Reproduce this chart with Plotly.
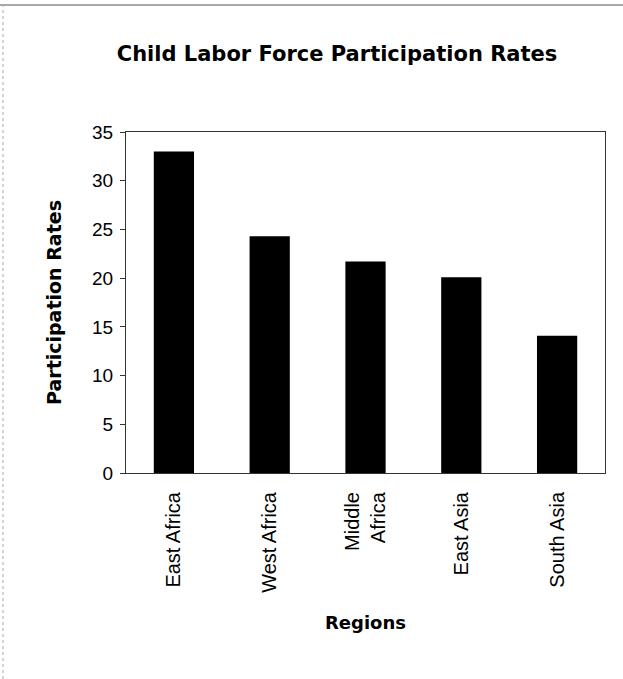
import plotly.graph_objects as go

regions = ["East Africa", "West Africa", "Middle<br>Africa", "East Asia", "South Asia"]
rates = [33.0, 24.3, 21.7, 20.1, 14.1]
y_ticks = [0, 5, 10, 15, 20, 25, 30, 35]

FONT = "Liberation Sans, Arial, sans-serif"
BOLD = "DejaVu Sans, Liberation Sans, sans-serif"

fig = go.Figure(
    go.Bar(
        x=regions,
        y=rates,
        marker=dict(color="black", line=dict(width=0)),
    )
)

fig.update_layout(
    width=623,
    height=679,
    margin=dict(l=126, r=18, t=132, b=206),
    paper_bgcolor="white",
    plot_bgcolor="white",
    bargap=0.58,
    showlegend=False,
    font=dict(family=FONT, color="black", size=20),
    title=dict(
        text="<b>Child Labor Force Participation Rates</b>",
        x=337 / 623,
        xanchor="center",
        y=1 - 54 / 679,
        yanchor="middle",
        font=dict(size=21, family=BOLD, color="black"),
    ),
)

fig.update_xaxes(
    tickangle=-90,
    tickfont=dict(size=20),
    ticklabelstandoff=10,
    showline=True,
    linecolor="#333",
    linewidth=1,
    mirror=True,
    ticks="",
    showgrid=False,
    title=dict(text="<b>Regions</b>", font=dict(size=18, family=BOLD), standoff=24),
)

fig.update_yaxes(
    range=[0, 35],
    tickvals=y_ticks,
    tickfont=dict(size=19),
    ticklabelstandoff=3,
    showline=True,
    linecolor="#333",
    linewidth=1,
    mirror=True,
    ticks="outside",
    ticklen=5,
    tickcolor="#333",
    showgrid=False,
    zeroline=False,
    title=dict(text="<b>Participation Rates</b>", font=dict(size=19, family=BOLD), standoff=25),
)

# faint page edges along the top and left
fig.add_shape(type="line", xref="paper", yref="paper",
              x0=-126 / 479, x1=1 + 18 / 479, y0=1 + 127 / 341, y1=1 + 127 / 341,
              line=dict(color="#555", width=1))
fig.add_shape(type="line", xref="paper", yref="paper",
              x0=-123 / 479, x1=-123 / 479, y0=-206 / 341, y1=1 + 127 / 341,
              line=dict(color="#aaa", width=1, dash="dot"))

fig.write_html("out.html")
